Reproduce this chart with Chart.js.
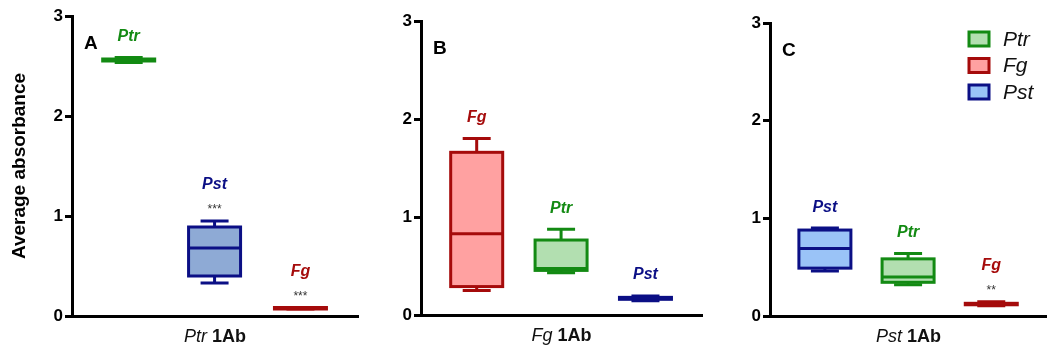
<!DOCTYPE html>
<html>
<head>
<meta charset="utf-8">
<script src="https://cdn.jsdelivr.net/npm/chart.js@4.4.0/dist/chart.umd.min.js"></script>
<style>
  body { margin: 0; background: #fff; }
  #wrap { position: relative; width: 1047px; height: 354px; }
  canvas { position: absolute; top: 0; }
</style>
</head>
<body>
<div id="wrap">
  <canvas id="chartA" width="360" height="354" style="left:0px"></canvas>
  <canvas id="chartB" width="352" height="354" style="left:352px"></canvas>
  <canvas id="chartC" width="343" height="354" style="left:704px"></canvas>
</div>
<script>
// ---- data ----
const yTicks = [0, 1, 2, 3];

// Panel A: Ptr 1Ab
const labelsA = ['Ptr', 'Pst', 'Fg'];
const minA    = [2.535, 0.33, 0.07];
const q1A     = [2.55, 0.40, 0.07];
const medA    = [2.56, 0.68, 0.078];
const q3A     = [2.57, 0.89, 0.085];
const maxA    = [2.585, 0.95, 0.085];
const starsA  = ['', '***', '***'];

// Panel B: Fg 1Ab
const labelsB = ['Fg', 'Ptr', 'Pst'];
const minB    = [0.25, 0.43, 0.145];
const q1B     = [0.29, 0.455, 0.16];
const medB    = [0.83, 0.475, 0.17];
const q3B     = [1.66, 0.765, 0.18];
const maxB    = [1.80, 0.875, 0.195];
const starsB  = ['', '', ''];

// Panel C: Pst 1Ab
const labelsC = ['Pst', 'Ptr', 'Fg'];
const minC    = [0.46, 0.32, 0.105];
const q1C     = [0.49, 0.345, 0.115];
const medC    = [0.69, 0.40, 0.12];
const q3C     = [0.88, 0.585, 0.13];
const maxC    = [0.90, 0.64, 0.145];
const starsC  = ['', '', '**'];

const legendLabels = ['Ptr', 'Fg', 'Pst'];

// ---- styling ----
const FONT = "'Liberation Sans', Arial, sans-serif";
Chart.defaults.font.family = FONT;

const colors = {
  Ptr: { line: '#138a13', fill: '#b2dfb0' },
  Fg:  { line: '#a50b0b', fill: '#ffa1a1' },
  Pst: { line: '#0b0f85', fill: '#9ac3f7' }
};

const BOX = 52;   // box width (px)
const CAP = 28;   // whisker cap width (px)

const boxPlugin = {
  id: 'boxplot',
  afterDatasetsDraw(chart, args, opts) {
    const ctx = chart.ctx;
    const area = chart.chartArea;
    const x = chart.scales.x;
    const y = chart.scales.y;
    const p = opts.panel;
    ctx.save();
    ctx.lineWidth = 3;
    ctx.lineCap = 'butt';

    p.labels.forEach((name, i) => {
      const col = colors[name];
      const cx = x.getPixelForValue(i + 1);
      const yMin = y.getPixelForValue(p.min[i]);
      const yQ1 = y.getPixelForValue(p.q1[i]);
      const yMed = y.getPixelForValue(p.med[i]);
      const yQ3 = y.getPixelForValue(p.q3[i]);
      const yMax = y.getPixelForValue(p.max[i]);

      ctx.strokeStyle = col.line;
      // whiskers
      ctx.beginPath();
      ctx.moveTo(cx, yQ3); ctx.lineTo(cx, yMax);
      ctx.moveTo(cx - CAP / 2, yMax); ctx.lineTo(cx + CAP / 2, yMax);
      ctx.moveTo(cx, yQ1); ctx.lineTo(cx, yMin);
      ctx.moveTo(cx - CAP / 2, yMin); ctx.lineTo(cx + CAP / 2, yMin);
      ctx.stroke();
      // box outline
      ctx.strokeRect(cx - BOX / 2, yQ3, BOX, yQ1 - yQ3);
      // median
      ctx.beginPath();
      ctx.moveTo(cx - BOX / 2, yMed); ctx.lineTo(cx + BOX / 2, yMed);
      ctx.stroke();

      // group name above box
      const hasStars = p.stars[i] !== '';
      ctx.textAlign = 'center';
      ctx.textBaseline = 'middle';
      ctx.fillStyle = col.line;
      ctx.font = 'italic bold 16px ' + FONT;
      ctx.fillText(name, cx, yMax - (hasStars ? 36 : 21));
      if (hasStars) {
        ctx.fillStyle = '#333';
        ctx.font = '12px ' + FONT;
        ctx.fillText(p.stars[i], cx, yMax - 11);
      }
    });

    // panel letter
    ctx.fillStyle = '#000';
    ctx.textAlign = 'left';
    ctx.textBaseline = 'middle';
    ctx.font = 'bold 19px ' + FONT;
    ctx.fillText(p.letter, area.left + 12, area.top + 28);

    // x title: italic species + bold "1Ab"
    ctx.textBaseline = 'middle';
    ctx.font = 'italic 18px ' + FONT;
    const w1 = ctx.measureText(p.species + ' ').width;
    ctx.font = 'bold 18px ' + FONT;
    const w2 = ctx.measureText('1Ab').width;
    const tx = (area.left + area.right) / 2 - (w1 + w2) / 2;
    const ty = area.bottom + 21;
    ctx.font = 'italic 18px ' + FONT;
    ctx.fillStyle = '#111';
    ctx.fillText(p.species + ' ', tx, ty);
    ctx.font = 'bold 18px ' + FONT;
    ctx.fillText('1Ab', tx + w1, ty);

    // legend (panel C only)
    if (p.legend) {
      legendLabels.forEach((name, k) => {
        const col = colors[name];
        const ly = area.top + 16 + k * 26.5;
        ctx.fillStyle = col.fill;
        ctx.fillRect(area.right - 78, ly - 7, 20, 14);
        ctx.strokeStyle = col.line;
        ctx.lineWidth = 3;
        ctx.strokeRect(area.right - 78, ly - 7, 20, 14);
        ctx.fillStyle = '#111';
        ctx.font = 'italic 21px ' + FONT;
        ctx.textAlign = 'left';
        ctx.fillText(name, area.right - 44, ly + 1);
      });
    }
    ctx.restore();
  }
};

function makePanel(id, panel, opts) {
  const fills = panel.labels.map((name, i) =>
    (panel.fillOverride && panel.fillOverride[i]) || colors[name].fill);
  return new Chart(document.getElementById(id), {
    type: 'bar',
    data: {
      datasets: [{
        data: panel.labels.map((_, i) => ({ x: i + 1, y: [panel.q1[i], panel.q3[i]] })),
        backgroundColor: fills,
        borderWidth: 0,
        barThickness: BOX
      }]
    },
    plugins: [boxPlugin],
    options: {
      responsive: false,
      animation: false,
      devicePixelRatio: 1,
      layout: { padding: { top: opts.top, right: opts.right, left: 0, bottom: 0 } },
      plugins: {
        legend: { display: false },
        tooltip: { enabled: false },
        boxplot: { panel: panel }
      },
      scales: {
        x: {
          type: 'linear',
          offset: false,
          min: 0.34,
          max: 3.67,
          ticks: { display: false },
          grid: { display: false },
          border: { display: true, color: '#000', width: 3 },
          afterFit(scale) { scale.height = 354 - opts.bottom; }
        },
        y: {
          min: 0,
          max: 3,
          afterBuildTicks(scale) { scale.ticks = yTicks.map(v => ({ value: v })); },
          ticks: {
            color: '#000',
            padding: 2,
            font: { size: 17, weight: 'bold' }
          },
          grid: {
            display: true,
            drawOnChartArea: false,
            drawTicks: true,
            tickLength: 7,
            color: '#000',
            lineWidth: 3
          },
          border: { display: true, color: '#000', width: 3 },
          title: {
            display: !!opts.yTitle,
            text: opts.yTitle || '',
            color: '#000',
            font: { size: 19, weight: 'bold' },
            padding: { top: 8, bottom: 0 }
          },
          afterFit(scale) { scale.width = opts.axisX; }
        }
      }
    }
  });
}

makePanel('chartA', {
  labels: labelsA, min: minA, q1: q1A, med: medA, q3: q3A, max: maxA, stars: starsA,
  letter: 'A', species: 'Ptr', fillOverride: [null, '#8eaad5', null]
}, { top: 16, right: 2, bottom: 316, axisX: 72, yTitle: 'Average absorbance' });

makePanel('chartB', {
  labels: labelsB, min: minB, q1: q1B, med: medB, q3: q3B, max: maxB, stars: starsB,
  letter: 'B', species: 'Fg'
}, { top: 21, right: 2, bottom: 315, axisX: 69 });

makePanel('chartC', {
  labels: labelsC, min: minC, q1: q1C, med: medC, q3: q3C, max: maxC, stars: starsC,
  letter: 'C', species: 'Pst', legend: true
}, { top: 23, right: 0, bottom: 316, axisX: 66 });
</script>
</body>
</html>
